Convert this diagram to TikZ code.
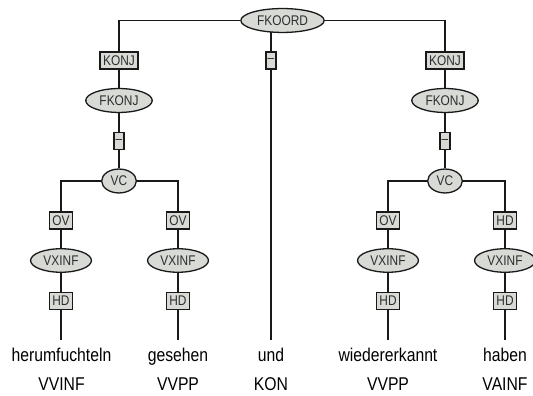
\documentclass[tikz,border=0pt]{standalone}
\usepackage{fontspec}
\setmainfont[FakeStretch=0.85]{Liberation Sans}
\usepackage{tikz}
\usetikzlibrary{
  shapes.geometric,
  positioning,
  backgrounds
}
\definecolor{NodeGray}{RGB}{216, 218, 214}
\definecolor{LineBlack}{RGB}{25, 25, 25}
\definecolor{LabelGray}{RGB}{45, 45, 45}
\tikzset{
    catnode/.style={ellipse, draw=LineBlack, fill=NodeGray, line width=1.3pt,
        inner xsep=4pt, inner ysep=3.5pt, text=LabelGray,
        font=\fontsize{14}{16}\selectfont},
    funcnode/.style={rectangle, draw=LineBlack, fill=NodeGray, line width=1.3pt,
        inner xsep=3.2pt, inner ysep=0pt, minimum height=17pt, minimum width=10pt,
        text=LabelGray, font=\fontsize{14}{16}\selectfont},
    dashnode/.style={funcnode, inner xsep=1.5pt},
    wordnode/.style={inner sep=0pt, anchor=base, font=\fontsize{18.5}{20}\selectfont},
    treeline/.style={draw=LineBlack, line width=1.3pt}
}

\begin{document}
\begin{tikzpicture}[x=1pt, y=1pt]
    \useasboundingbox (0,0) rectangle (533,396);

    % top level
    \node[catnode] (fkoord) at (282.5,375.5) {FKOORD};
    \node[funcnode] (konjL) at (119,335.5) {KONJ};
    \node[dashnode] (dashM) at (271,335.5) {--};
    \node[funcnode] (konjR) at (445,335.5) {KONJ};

    % left conjunct
    \node[catnode] (fkonjL) at (119,295.5) {FKONJ};
    \node[dashnode] (dashL) at (119,255) {--};
    \node[catnode] (vcL) at (119,215) {VC};
    \node[funcnode] (ovA) at (61,175.5) {OV};
    \node[catnode] (vxA) at (61,135.5) {VXINF};
    \node[funcnode] (hdA) at (61,95) {HD};
    \node[funcnode] (ovB) at (178,175.5) {OV};
    \node[catnode] (vxB) at (178,135.5) {VXINF};
    \node[funcnode] (hdB) at (178,95) {HD};

    % right conjunct
    \node[catnode] (fkonjR) at (445,295.5) {FKONJ};
    \node[dashnode] (dashR) at (445,255) {--};
    \node[catnode] (vcR) at (445,215) {VC};
    \node[funcnode] (ovD) at (388,175.5) {OV};
    \node[catnode] (vxD) at (388,135.5) {VXINF};
    \node[funcnode] (hdD) at (388,95) {HD};
    \node[funcnode] (hdE) at (505,175.5) {HD};
    \node[catnode] (vxE) at (505,135.5) {VXINF};
    \node[funcnode] (hdEE) at (505,95) {HD};

    % words and tags
    \coordinate (endA) at (61,56);
    \coordinate (endB) at (178,56);
    \coordinate (endC) at (271,56);
    \coordinate (endD) at (388,56);
    \coordinate (endE) at (505,56);
    \node[wordnode] (wA) at (61.5,34) {herumfuchteln};
    \node[wordnode] (wB) at (178,34) {gesehen};
    \node[wordnode] (wC) at (271,34) {und};
    \node[wordnode] (wD) at (388,34) {wiedererkannt};
    \node[wordnode] (wE) at (505,34) {haben};
    \node[wordnode] (tA) at (61.5,5) {VVINF};
    \node[wordnode] (tB) at (178,5) {VVPP};
    \node[wordnode] (tC) at (271,5) {KON};
    \node[wordnode] (tD) at (388,5) {VVPP};
    \node[wordnode] (tE) at (505,5) {VAINF};

    % branches behind the nodes
    \begin{scope}[on background layer]
        \draw[treeline] (konjL) |- (fkoord) -| (konjR);
        \draw[treeline] (dashM |- fkoord) -- (dashM) -- (endC);
        \draw[treeline] (konjL) -- (fkonjL) -- (dashL) -- (vcL);
        \draw[treeline] (ovA) |- (vcL) -| (ovB);
        \draw[treeline] (ovA) -- (vxA) -- (hdA) -- (endA);
        \draw[treeline] (ovB) -- (vxB) -- (hdB) -- (endB);
        \draw[treeline] (konjR) -- (fkonjR) -- (dashR) -- (vcR);
        \draw[treeline] (ovD) |- (vcR) -| (hdE);
        \draw[treeline] (ovD) -- (vxD) -- (hdD) -- (endD);
        \draw[treeline] (hdE) -- (vxE) -- (hdEE) -- (endE);
    \end{scope}
\end{tikzpicture}
\end{document}
